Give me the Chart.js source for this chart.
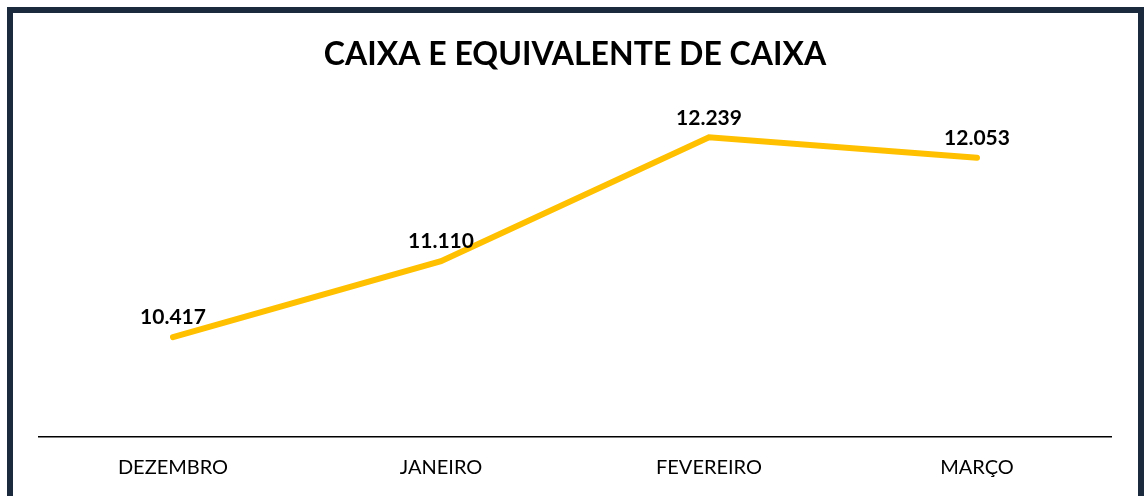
<!DOCTYPE html>
<html>
<head>
<meta charset="utf-8">
<script src="https://cdn.jsdelivr.net/npm/chart.js@4"></script>
<style>
  html, body { margin: 0; padding: 0; background: #fff; }
  #wrap { position: relative; width: 1144px; height: 496px; overflow: hidden; }
  #frame {
    position: absolute; left: 7px; top: 7px; width: 1125px; height: 520px;
    border: 6px solid #1b2a3d; pointer-events: none;
  }
  canvas { position: absolute; left: 0; top: 0; }
</style>
</head>
<body>
<div id="wrap">
  <canvas id="chart" width="1144" height="496"></canvas>
  <div id="frame"></div>
</div>
<script>
const months = ['DEZEMBRO', 'JANEIRO', 'FEVEREIRO', 'MARÇO'];
const cashValues = [10417, 11110, 12239, 12053];
const chartTitle = 'CAIXA E EQUIVALENTE DE CAIXA';

const fmt = v => v.toLocaleString('pt-BR');

// simple data label drawer, nothing else available offline
const pointLabels = {
    id: 'pointLabels',
    afterDatasetsDraw(chart) {
        let ctx = chart.ctx;
        let meta = chart.getDatasetMeta(0);
        ctx.save();
        ctx.font = 'bold 21px Lato';
        ctx.fillStyle = '#000';
        ctx.textAlign = 'center';
        ctx.textBaseline = 'bottom';
        meta.data.forEach((pt, i) => {
            ctx.fillText(fmt(cashValues[i]), pt.x, pt.y - 9);
        });
        ctx.restore();
    }
};

new Chart(document.getElementById('chart'), {
    type: 'line',
    data: {
        labels: months,
        datasets: [{
            data: cashValues,
            borderColor: '#FFC000',
            borderWidth: 6,
            borderCapStyle: 'round',
            borderJoinStyle: 'miter',
            pointRadius: 0,
            tension: 0
        }]
    },
    options: {
        responsive: false,
        animation: false,
        layout: { padding: { left: 39, right: 33, top: 0, bottom: 0 } },
        plugins: {
            legend: { display: false },
            tooltip: { enabled: false },
            title: {
                display: true,
                text: chartTitle,
                color: '#000',
                font: { family: 'Lato', size: 32, weight: 'bold', lineHeight: 1.2 },
                padding: { top: 35, bottom: 27 }
            }
        },
        scales: {
            x: {
                offset: true,
                grid: { display: false, drawTicks: false, offset: true },
                border: { display: true, color: '#000', width: 1.5 },
                ticks: {
                    color: '#000',
                    font: { family: 'Lato', size: 20 },
                    padding: 19
                },
                afterFit: s => { s.height = 59; }
            },
            y: {
                display: false,
                min: 9506,
                max: 12576
            }
        }
    },
    plugins: [pointLabels]
});
</script>
</body>
</html>
